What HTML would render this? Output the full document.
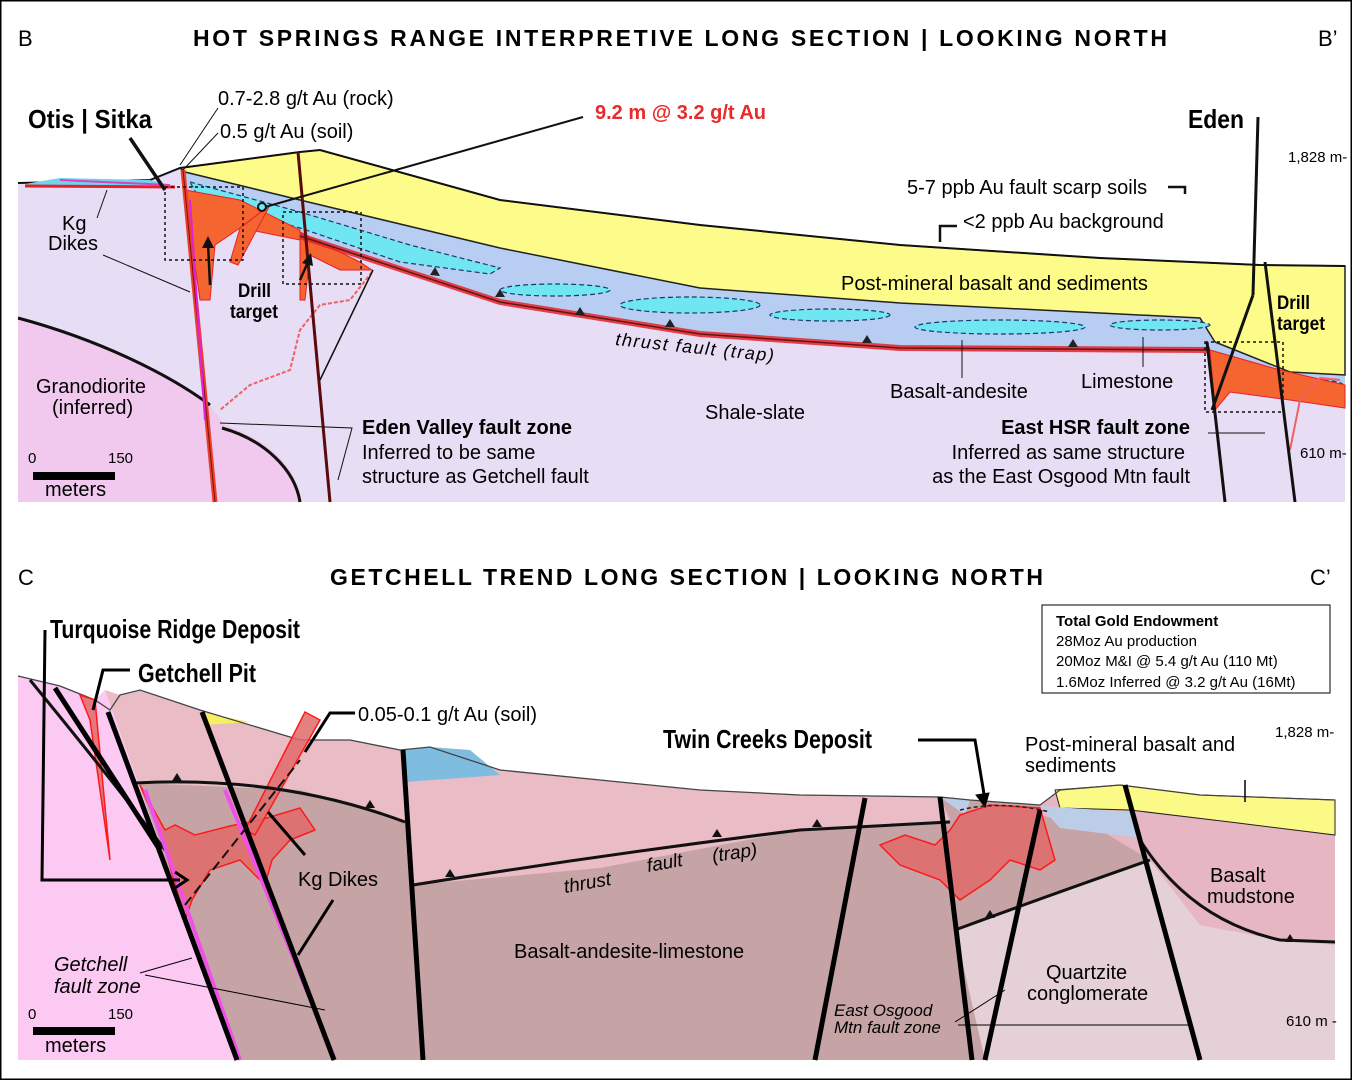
<!DOCTYPE html>
<html><head><meta charset="utf-8"><style>
html,body{margin:0;padding:0;background:#fff}
svg{display:block}
text{font-family:"Liberation Sans",sans-serif}
.c{font-family:"Liberation Sans",sans-serif;font-weight:bold}
</style></head><body>
<svg width="1352" height="1080" viewBox="0 0 1352 1080" xmlns="http://www.w3.org/2000/svg">
<rect x="0.5" y="0.5" width="1351" height="1079" fill="#fff" stroke="#000" stroke-width="2"/>

<!-- ============ TOP SECTION ============ -->
<text x="18" y="46" font-size="22">B</text>
<text x="1318" y="46" font-size="22">B’</text>
<text x="193" y="46" font-size="23" font-weight="bold" textLength="974" lengthAdjust="spacing">HOT SPRINGS RANGE INTERPRETIVE LONG SECTION | LOOKING NORTH</text>

<path d="M18,183 L150,180 L180,168 L300,152 L320,150 L500,200 L700,225 L900,245 L1100,258 L1260,265 L1345,266 L1345,502 L18,502 Z" fill="#e7ddf4"/>
<path d="M18,318 C100,340 170,375 210,405 L225,425 C270,440 300,470 300,502 L18,502 Z" fill="#f1c9ef"/>
<path d="M18,318 C100,340 170,375 210,405" fill="none" stroke="#111" stroke-width="3"/>
<path d="M222,428 C265,440 295,470 300,502" fill="none" stroke="#111" stroke-width="3"/>
<path d="M180,168 L300,152 L320,150 L500,200 L700,225 L900,245 L1100,258 L1260,265 L1345,266 L1345,395 L1300,392 L1210,350 L900,346 L700,332 L500,300 L300,235 L185,190 Z" fill="#b7cdf2"/>
<path d="M180,168 L300,152 L320,150 L500,200 L700,225 L900,245 L1100,258 L1260,265 L1345,266 L1345,375 L1290,372 L1215,342 L1200,318 L1100,313 L900,303 L700,288 L500,248 L300,200 L185,172 Z" fill="#fdfb8a" stroke="#222" stroke-width="1.5"/>
<path d="M18,183 L150,180 L180,168 L300,152 L320,150 L500,200 L700,225 L900,245 L1100,258 L1260,265 L1345,266" fill="none" stroke="#111" stroke-width="2"/>
<path d="M25,184 L60,178 L150,180 L170,185 L30,186 Z" fill="#6ad7ee"/>
<path d="M25,186 L175,187" stroke="#e8202a" stroke-width="3"/>
<path d="M60,180 L170,185" stroke="#e040c0" stroke-width="2"/>
<g fill="#6fe6f2" stroke="#1a3a6a" stroke-width="1.2" stroke-dasharray="5,3">
<path d="M190,182 L300,212 L410,245 L500,268 L490,274 L400,262 L300,228 L200,200 Z"/>
<ellipse cx="555" cy="290" rx="55" ry="6"/>
<ellipse cx="690" cy="305" rx="70" ry="8"/>
<ellipse cx="830" cy="315" rx="60" ry="6"/>
<ellipse cx="1000" cy="327" rx="85" ry="7"/>
<ellipse cx="1160" cy="325" rx="50" ry="5"/>
<ellipse cx="1315" cy="385" rx="28" ry="5"/>
</g>
<g fill="#f4652f" stroke="#e8202a" stroke-width="1">
<path d="M185,190 L240,200 L300,230 L300,240 L240,228 L215,245 L210,300 L200,300 L190,230 Z"/>
<path d="M300,232 L360,262 L372,270 L340,270 L310,255 L305,300 L300,300 Z"/>
<path d="M1210,350 L1280,370 L1345,385 L1345,408 L1290,400 L1230,392 L1215,410 Z"/>
<path d="M240,228 L270,205 L238,265 L230,262 Z"/>
</g>
<path d="M300,236 L500,302 L700,334 L900,348 L1210,350" fill="none" stroke="#e8202a" stroke-width="6" opacity="0.85"/>
<path d="M300,236 L500,302 L700,334 L900,348 L1210,350" fill="none" stroke="#5a1a10" stroke-width="1.5"/>
<g fill="#222">
<path d="M430,275 l5,-8 l5,9 z"/><path d="M495,297 l5,-8 l5,8 z"/><path d="M575,315 l5,-8 l5,8 z"/><path d="M665,327 l5,-8 l5,8 z"/><path d="M862,343 l5,-8 l5,8 z"/><path d="M1068,347 l5,-8 l5,8 z"/>
</g>
<path d="M372,272 L350,300 L320,305 L300,330 L290,370 L250,385 L220,410" fill="none" stroke="#f06060" stroke-width="2" stroke-dasharray="4,2"/>
<path d="M1340,380 L1320,378 L1300,400 L1290,450" fill="none" stroke="#f06060" stroke-width="2"/>
<path d="M183,170 L215,502" stroke="#e8402a" stroke-width="5"/>
<path d="M183,170 L215,502" stroke="#7a1010" stroke-width="1"/>
<path d="M190,200 L205,420" stroke="#e020e0" stroke-width="2"/>
<path d="M298,152 L330,502" stroke="#5a0a0a" stroke-width="3"/>
<path d="M1207,342 L1225,502" stroke="#111" stroke-width="3"/>
<path d="M1265,262 L1295,502" stroke="#111" stroke-width="3"/>
<path d="M1253,295 L1212,410" stroke="#111" stroke-width="3"/>
<path d="M1258,117 L1253,295" stroke="#111" stroke-width="3"/>
<g fill="none" stroke="#111" stroke-width="1.5" stroke-dasharray="3,3">
<rect x="165" y="187" width="78" height="73"/>
<rect x="283" y="212" width="78" height="72"/>
<rect x="1205" y="342" width="78" height="70"/>
</g>
<path d="M210,285 L208,243" stroke="#111" stroke-width="2.5"/><path d="M202,248 l6,-12 l6,12 z" fill="#111"/>
<path d="M300,280 L308,262" stroke="#111" stroke-width="2.5"/><path d="M302,263 l9,-10 l2,13 z" fill="#111"/>
<g stroke="#111" fill="none">
<path d="M130,138 L165,190" stroke-width="3.5"/>
<path d="M218,108 L180,165"/><path d="M218,133 L183,170"/>
<path d="M583,117 L265,207" stroke-width="2"/>
<circle cx="262" cy="207" r="4" stroke-width="2" fill="none"/>
<path d="M107,190 L97,218"/><path d="M103,255 L190,292"/>
<path d="M373,270 L320,380" stroke-width="1.5"/>
<path d="M220,423 L352,428 L338,480"/>
<path d="M1168,187 L1185,187 L1185,194" stroke-width="2.5"/>
<path d="M940,242 L940,226 L957,226" stroke-width="2.5"/>
<path d="M962,340 L962,378"/><path d="M1143,337 L1143,367"/>
<path d="M1208,433 L1265,433"/>
</g>
<text x="28" y="128" class="c" font-size="26" textLength="124" lengthAdjust="spacingAndGlyphs">Otis | Sitka</text>
<text x="218" y="105" font-size="20">0.7-2.8 g/t Au (rock)</text>
<text x="220" y="138" font-size="20">0.5 g/t Au (soil)</text>
<text x="595" y="119" font-size="20" font-weight="bold" fill="#e82a2a">9.2 m @ 3.2 g/t Au</text>
<text x="1188" y="128" class="c" font-size="26" textLength="56" lengthAdjust="spacingAndGlyphs">Eden</text>
<text x="1288" y="162" font-size="15">1,828 m-</text>
<text x="1300" y="458" font-size="15">610 m-</text>
<text x="907" y="194" font-size="20">5-7 ppb Au fault scarp soils</text>
<text x="963" y="228" font-size="20">&lt;2 ppb Au background</text>
<text x="841" y="290" font-size="20">Post-mineral basalt and sediments</text>
<text x="1277" y="309" class="c" font-size="19" textLength="33" lengthAdjust="spacingAndGlyphs">Drill</text>
<text x="1277" y="330" class="c" font-size="19" textLength="48" lengthAdjust="spacingAndGlyphs">target</text>
<text x="238" y="297" class="c" font-size="19" textLength="33" lengthAdjust="spacingAndGlyphs">Drill</text>
<text x="230" y="318" class="c" font-size="19" textLength="48" lengthAdjust="spacingAndGlyphs">target</text>
<text x="62" y="230" font-size="20">Kg</text>
<text x="48" y="250" font-size="20">Dikes</text>
<text x="36" y="393" font-size="20">Granodiorite</text>
<text x="52" y="414" font-size="20">(inferred)</text>
<text x="615" y="345" font-size="18" font-style="italic" letter-spacing="1.5" transform="rotate(6 615 345)">thrust fault (trap)</text>
<text x="890" y="398" font-size="20">Basalt-andesite</text>
<text x="1081" y="388" font-size="20">Limestone</text>
<text x="705" y="419" font-size="20">Shale-slate</text>
<text x="362" y="434" font-size="20" font-weight="bold">Eden Valley fault zone</text>
<text x="362" y="459" font-size="20">Inferred to be same</text>
<text x="362" y="483" font-size="20">structure as Getchell fault</text>
<text x="1190" y="434" font-size="20" font-weight="bold" text-anchor="end">East HSR fault zone</text>
<text x="1185" y="459" font-size="20" text-anchor="end">Inferred as same structure</text>
<text x="1190" y="483" font-size="20" text-anchor="end">as  the East Osgood Mtn fault</text>
<text x="28" y="463" font-size="15">0</text><text x="108" y="463" font-size="15">150</text>
<rect x="33" y="472" width="82" height="8" fill="#000"/>
<text x="45" y="496" font-size="20">meters</text>

<!-- ============ BOTTOM SECTION ============ -->
<text x="18" y="585" font-size="22">C</text>
<text x="1310" y="585" font-size="22">C’</text>
<text x="330" y="585" font-size="23" font-weight="bold" textLength="713" lengthAdjust="spacing">GETCHELL TREND LONG SECTION | LOOKING NORTH</text>

<path d="M18,676 L60,686 L95,700 L110,710 L120,695 L140,690 L200,710 L300,740 L350,740 L400,750 L430,747 L500,770 L600,780 L700,790 L800,795 L940,797 L970,800 L1040,805 L1060,790 L1120,785 L1200,795 L1335,800 L1335,1060 L18,1060 Z" fill="#c6a4a6"/>
<path d="M105,690 L120,695 L140,690 L200,710 L300,740 L350,740 L400,750 L430,747 L500,770 L600,780 L700,790 L800,795 L940,797 L950,820 L800,830 L600,868 L413,885 L405,822 L300,790 L135,783 Z" fill="#e9bcc6"/>
<path d="M1040,805 L1060,790 L1120,785 L1200,795 L1335,800 L1335,945 L1280,940 L1200,925 L1150,860 L1100,830 L1040,815 Z" fill="#e6b6c2"/>
<path d="M955,930 L1050,895 L1150,860 L1200,925 L1280,940 L1335,945 L1335,1060 L985,1060 Z" fill="#e4d0d6"/>
<path d="M18,676 L60,686 L95,700 L105,690 L237,1060 L18,1060 Z" fill="#fbc9f2"/>
<path d="M403,750 L430,747 L470,750 L500,775 L405,782 Z" fill="#7fbde0"/>
<path d="M200,712 L250,722 L205,725 Z" fill="#f7ee60"/>
<path d="M1055,790 L1120,785 L1200,795 L1335,800 L1335,835 L1230,822 L1130,810 L1060,808 Z" fill="#fcfa86" stroke="#222" stroke-width="1"/>
<path d="M1040,806 L1130,812 L1140,838 L1060,828 Z" fill="#bccde8"/>
<path d="M940,797 L970,800 L965,815 Z" fill="#bccde8"/>
<path d="M18,676 L60,686 L95,700 L110,710 L120,695 L140,690 L200,710 L300,740 L350,740 L400,750 L430,747 L500,770 L600,780 L700,790 L800,795 L940,797 L970,800 L1040,805 L1060,790 L1120,785 L1200,795 L1335,800" fill="none" stroke="#444" stroke-width="1.3"/>
<g fill="#e06a6a" fill-opacity="0.85" stroke="#ff1a1a" stroke-width="1.5">
<path d="M80,695 L95,700 L110,860 L90,720 Z"/>
<path d="M140,785 L165,830 L175,825 L195,835 L230,826 L260,820 L300,808 L315,830 L290,840 L272,860 L265,885 L240,860 L210,870 L192,900 L185,920 L160,830 Z"/>
<path d="M305,712 L320,720 L255,835 L245,830 Z"/>
<path d="M960,815 L990,805 L1040,808 L1055,860 L1040,870 L1010,860 L990,880 L960,900 L940,880 L900,865 L880,845 L905,835 L935,845 L950,830 Z"/>
</g>
<g stroke="#111" stroke-width="3" fill="none">
<path d="M135,783 Q280,775 405,822"/>
<path d="M413,885 Q600,855 800,830 L950,822"/>
<path d="M955,930 Q1050,895 1150,860"/>
<path d="M1140,840 Q1190,920 1280,940 L1335,942"/>
<path d="M30,680 Q120,790 165,850"/>
</g>
<g fill="#111">
<path d="M172,781 l5,-8 l5,8 z"/><path d="M365,808 l5,-8 l5,8 z"/><path d="M445,877 l5,-8 l5,8 z"/><path d="M712,837 l5,-8 l5,8 z"/><path d="M812,827 l5,-8 l5,8 z"/><path d="M985,918 l5,-8 l5,8 z"/><path d="M1285,942 l5,-8 l5,8 z"/>
</g>
<path d="M145,790 L240,1060" stroke="#f050e8" stroke-width="4"/>
<path d="M225,790 L335,1060" stroke="#f050e8" stroke-width="4"/>
<g stroke="#000" stroke-width="5" fill="none">
<path d="M55,688 L160,850"/>
<path d="M108,712 L237,1060"/>
<path d="M202,712 L334,1060"/>
<path d="M403,750 L423,1060"/>
<path d="M865,798 L815,1060"/>
<path d="M940,797 L972,1060"/>
<path d="M1040,810 L985,1060"/>
<path d="M1125,785 L1200,1060"/>
</g>
<path d="M185,905 L300,760" stroke="#111" stroke-width="2" stroke-dasharray="10,5"/>
<g stroke="#000" fill="none">
<path d="M45,630 L42,880 L180,880" stroke-width="3"/>
<path d="M175,872 l12,8 l-12,8" stroke-width="3"/>
<path d="M130,670 L103,670 L93,710" stroke-width="3"/>
<path d="M355,713 L330,713 L305,752" stroke-width="3"/>
<path d="M268,812 L305,855" stroke-width="3"/>
<path d="M333,900 L298,955" stroke-width="3"/>
<path d="M140,973 L192,958"/><path d="M145,975 L325,1010"/>
<path d="M918,740 L975,740 L985,800" stroke-width="3"/>
<path d="M976,795 l9,12 l4,-14 z" fill="#000"/>
<path d="M955,1022 L1005,990"/><path d="M958,1025 L1190,1025"/>
<path d="M1245,780 L1245,802" stroke-width="1.5"/>
</g>
<path d="M960,810 Q1000,800 1050,812" stroke="#222" stroke-width="1.5" stroke-dasharray="4,3" fill="none"/>
<text x="50" y="638" class="c" font-size="26" textLength="250" lengthAdjust="spacingAndGlyphs">Turquoise Ridge Deposit</text>
<text x="138" y="682" class="c" font-size="26" textLength="118" lengthAdjust="spacingAndGlyphs">Getchell Pit</text>
<text x="358" y="721" font-size="20">0.05-0.1 g/t Au (soil)</text>
<text x="663" y="748" class="c" font-size="26" textLength="209" lengthAdjust="spacingAndGlyphs">Twin Creeks Deposit</text>
<text x="1025" y="751" font-size="20">Post-mineral basalt and</text>
<text x="1025" y="772" font-size="20">sediments</text>
<text x="1275" y="737" font-size="15">1,828 m-</text>
<text x="1286" y="1026" font-size="15">610 m -</text>
<rect x="1042" y="605" width="288" height="88" fill="#fff" stroke="#000" stroke-width="1"/>
<text x="1056" y="626" font-size="15" font-weight="bold">Total Gold Endowment</text>
<text x="1056" y="646" font-size="15">28Moz Au production</text>
<text x="1056" y="666" font-size="15">20Moz M&amp;I @ 5.4 g/t Au (110 Mt)</text>
<text x="1056" y="687" font-size="15">1.6Moz Inferred @ 3.2 g/t Au (16Mt)</text>
<text x="298" y="886" font-size="20">Kg Dikes</text>
<text x="565" y="893" font-size="19" font-style="italic" transform="rotate(-10 565 893)">thrust</text>
<text x="648" y="872" font-size="19" font-style="italic" transform="rotate(-10 648 872)">fault</text>
<text x="713" y="862" font-size="19" font-style="italic" transform="rotate(-8 713 862)">(trap)</text>
<text x="514" y="958" font-size="20">Basalt-andesite-limestone</text>
<text x="1210" y="882" font-size="20">Basalt</text>
<text x="1207" y="903" font-size="20">mudstone</text>
<text x="1046" y="979" font-size="20">Quartzite</text>
<text x="1027" y="1000" font-size="20">conglomerate</text>
<text x="834" y="1016" font-size="17" font-style="italic">East Osgood</text>
<text x="834" y="1033" font-size="17" font-style="italic">Mtn fault zone</text>
<text x="54" y="971" font-size="20" font-style="italic">Getchell</text>
<text x="54" y="993" font-size="20" font-style="italic">fault zone</text>
<text x="28" y="1019" font-size="15">0</text><text x="108" y="1019" font-size="15">150</text>
<rect x="33" y="1027" width="82" height="8" fill="#000"/>
<text x="45" y="1052" font-size="20">meters</text>
</svg>
</body></html>
